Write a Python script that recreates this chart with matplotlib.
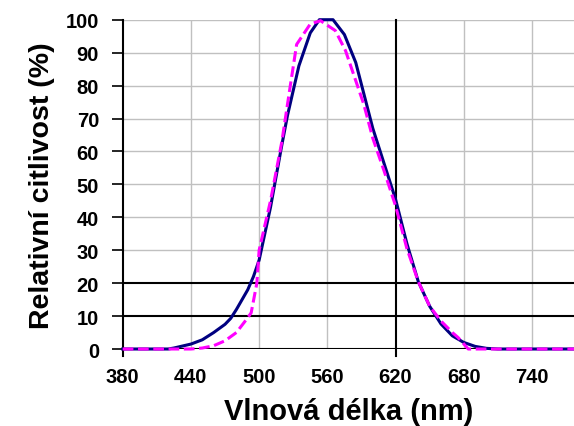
import matplotlib.pyplot as plt

plt.rcParams['font.family'] = ['Liberation Sans', 'DejaVu Sans']

# relative sensitivity
wl_blue = [380, 420, 425, 440, 450, 460, 470, 475, 480, 490, 495, 500, 510, 520,
           525, 535, 545, 553, 565, 575, 585, 600, 620, 630, 640, 650, 660, 670,
           680, 690, 700, 710, 780]
val_blue = [0, 0, 0.3, 1.5, 2.8, 5, 7.5, 9.3, 12, 18, 22, 27, 43, 62,
            71, 86, 96, 100, 100, 95.5, 87, 67, 45.5, 32, 20.5, 13, 7.6, 4,
            2, 0.8, 0.2, 0, 0]

wl_mag = [380, 440, 450, 460, 470, 480, 490, 493, 498, 500, 510, 520, 527, 533,
          545, 554, 557, 567, 576, 583, 592, 600, 610, 620, 630, 640, 650, 660,
          670, 675, 684, 780]
val_mag = [0, 0, 0.3, 1, 2.5, 5, 9.5, 11, 20, 30, 45, 63, 79, 92.5,
           98.7, 99.7, 99, 96.7, 90.6, 83.5, 74.4, 64, 54, 43.5, 30.5, 20.5, 13, 8.5,
           5, 3.5, 0, 0]

x_ticks = [380, 440, 500, 560, 620, 680, 740]
y_ticks = list(range(0, 101, 10))

fig = plt.figure(figsize=(5.74, 4.27), dpi=100)
ax = fig.add_axes([0.2138, 0.1803, 0.7862, 0.7712])

ax.set_xlim(380, 777)
ax.set_ylim(0, 100)
ax.set_xticks(x_ticks)
ax.set_yticks(y_ticks)

# grid
for x in x_ticks[1:]:
    if x != 620:
        ax.axvline(x, color='#c0c0c0', lw=1, zorder=1)
for y in y_ticks[1:]:
    if y not in (10, 20):
        ax.axhline(y, color='#c0c0c0', lw=1, zorder=1)
for y in (0, 10, 20):
    ax.axhline(y, color='black', lw=1.5, zorder=2)
ax.plot([620, 620], [-2.2, 100], color='black', lw=1.5, zorder=2, clip_on=False)
ax.plot([380, 380], [-2.2, 100], color='black', lw=1.5, zorder=2, clip_on=False)

ax.plot(wl_blue, val_blue, color='#000080', lw=2.2, zorder=3, clip_on=False)
ax.plot(wl_mag, val_mag, color='#ff00ff', lw=2.2, ls=(0, (3.5, 1.5)), zorder=4, clip_on=False)

for s in ax.spines.values():
    s.set_visible(False)
ax.tick_params(axis='x', length=0, pad=13, labelsize=14.5)
ax.tick_params(axis='y', length=8, width=1.2, pad=9, labelsize=14.5)
for lab in ax.get_xticklabels() + ax.get_yticklabels():
    lab.set_fontweight('bold')

ax.set_xlabel('Vlnová délka (nm)', fontsize=21, fontweight='bold', labelpad=8)
ax.set_ylabel('Relativní citlivost (%)', fontsize=20.5, fontweight='bold', labelpad=8)

fig.savefig('out.png', dpi=100)
